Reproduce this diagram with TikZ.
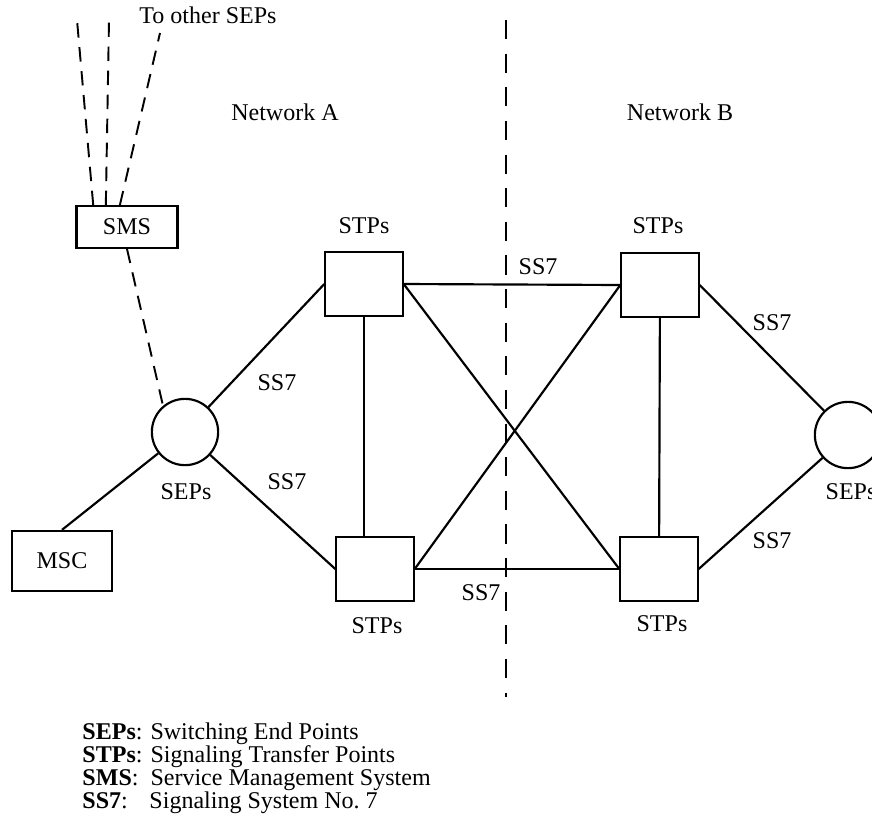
\documentclass[tikz,border=0pt]{standalone}
\usepackage{fontspec}
\setmainfont{Liberation Serif}
\tikzset{
  box/.style={draw, line width=0.9pt, inner sep=0pt},
  stpbox/.style={box, minimum width=1.13cm, minimum height=0.94cm},
  sepnode/.style={draw, circle, line width=0.9pt, minimum size=0.97cm, inner sep=0pt},
  link/.style={line width=0.9pt},
  smslink/.style={line width=0.8pt, dash pattern=on 6pt off 4pt},
  border/.style={line width=0.8pt, dash pattern=on 8pt off 6pt},
}
\begin{document}
\begin{tikzpicture}[x=0.01464cm,y=-0.01464cm]
\useasboundingbox (0,0) rectangle (872,815);

% network elements
\node[box, minimum width=1.48cm, minimum height=0.61cm] (sms) at (127,227) {SMS};
\node[box, minimum width=1.46cm, minimum height=0.88cm] (msc) at (62,561) {MSC};
\node[sepnode] (sepA) at (185,432) {};
\node[sepnode] (sepB) at (848,435) {};
\node[stpbox] (stpTL) at (364,284) {};
\node[stpbox] (stpBL) at (375,569) {};
\node[stpbox] (stpTR) at (660,285) {};
\node[stpbox] (stpBR) at (659,569) {};

% labels
\node (labTL) at (364,226) {STPs};
\node (labTR) at (658,226) {STPs};
\node (labBL) at (377,626) {STPs};
\node (labBR) at (662,624) {STPs};
\node (labA) at (186,492) {SEPs};
\node (labB) at (851,492) {SEPs};
\node (netA) at (285,112) {Network A};
\node (netB) at (680,112) {Network B};
\node (other) at (208,15) {To other SEPs};

% SS7 links
\draw[link] (msc.north) -- (sepA);
\draw[link] (sepA) -- (stpTL.west);
\draw[link] (sepA) -- (stpBL.west);
\draw[link] (stpTL.south) -- (stpTL.south |- stpBL.north);
\draw[link] (stpTR) -- (stpBR);
\draw[link] (stpTL.east) -- (stpTR.west);
\draw[link] (stpBL.east) -- (stpBR.west);
\draw[link] (stpTL.east) -- (stpBR.west);
\draw[link] (stpBL.east) -- (stpTR.west);
\draw[link] (stpTR.east) -- (sepB);
\draw[link] (stpBR.east) -- (sepB);

\node (ss1) at (277,383) {SS7};
\node (ss2) at (287,482) {SS7};
\node (ss3) at (538,267) {SS7};
\node (ss4) at (481,593) {SS7};
\node (ss5) at (772,323) {SS7};
\node (ss6) at (772,541) {SS7};

% SMS links
\coordinate (up1) at (77,20);
\coordinate (up2) at (109,20);
\coordinate (up3) at (160,33);
\draw[smslink] (sms.147) -- (up1);
\draw[smslink] (sms.134) -- (up2);
\draw[smslink] (sms.108) -- (up3);
\draw[smslink] (sms.south) -- (sepA.130);

% network boundary
\coordinate (bTop) at (506,20);
\coordinate (bBot) at (506,697);
\draw[border] (bTop) -- (bBot);

% legend
\node[anchor=north west, align=left, inner sep=0pt, font=\fontsize{10}{9.6}\selectfont] (legend) at (82,722)
  {\textbf{SEPs}: Switching End Points\\
   \textbf{STPs}: Signaling Transfer Points\\
   \textbf{SMS}:\hspace{0.5em}Service Management System\\
   \textbf{SS7}:\hspace{0.9em}Signaling System No.~7};
\end{tikzpicture}
\end{document}
